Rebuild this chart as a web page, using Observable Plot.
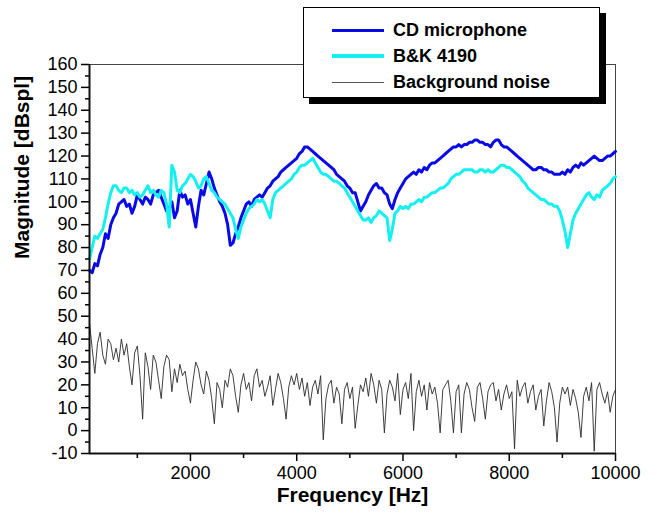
<!DOCTYPE html>
<html><head><meta charset="utf-8">
<script src="https://cdn.jsdelivr.net/npm/d3@7"></script>
<script src="https://cdn.jsdelivr.net/npm/@observablehq/plot@0.6"></script>
<style>
body{margin:0;background:#fff;font-family:"Liberation Sans",Arial,sans-serif;}
#wrap{position:relative;width:659px;height:519px;}
#legend{position:absolute;left:303px;top:7px;width:295px;height:89px;border:1px solid #000;background:#fff;box-shadow:6px 6px 0 #000;}
.row{position:absolute;left:0;width:100%;height:26px;}
.sw{position:absolute;left:28px;width:52px;}
.lab{position:absolute;left:89px;top:0;font-weight:bold;font-size:18px;line-height:26px;white-space:nowrap;color:#000;}
</style>
</head><body>
<div id="wrap"></div>
<script>
const freqHz = [
100,150,200,250,300,350,400,450,500,550,600,650,700,750,800,850,900,950,
1000,1050,1100,1150,1200,1250,1300,1350,1400,1450,1500,1550,1600,1650,1700,1750,1800,1850,1900,1950,
2000,2050,2100,2150,2200,2250,2300,2350,2400,2450,2500,2550,2600,2650,2700,2750,2800,2850,2900,2950,
3000,3050,3100,3150,3200,3250,3300,3350,3400,3450,3500,3550,3600,3650,3700,3750,3800,3850,3900,3950,
4000,4050,4100,4150,4200,4250,4300,4350,4400,4450,4500,4550,4600,4650,4700,4750,4800,4850,4900,4950,
5000,5050,5100,5150,5200,5250,5300,5350,5400,5450,5500,5550,5600,5650,5700,5750,5800,5850,5900,5950,
6000,6050,6100,6150,6200,6250,6300,6350,6400,6450,6500,6550,6600,6650,6700,6750,6800,6850,6900,6950,
7000,7050,7100,7150,7200,7250,7300,7350,7400,7450,7500,7550,7600,7650,7700,7750,7800,7850,7900,7950,
8000,8050,8100,8150,8200,8250,8300,8350,8400,8450,8500,8550,8600,8650,8700,8750,8800,8850,8900,8950,
9000,9050,9100,9150,9200,9250,9300,9350,9400,9450,9500,9550,9600,9650,9700,9750,9800,9850,9900,9950,
10000];

const cdMicDb = [
70,69,73,72,77,80,86,84,90,93,95,99,100,101,98,99,95,98,
103,101,99,102,101,99,103,104,105,102,99,96,97,100,93,96,105,102,103,99,
101,95,89,98,105,103,108,113,110,106,103,100,98,95,90,81,82,86,89,93,
96,99,100,98,101,102,103,102,104,106,107,109,110,111,113,114,115,116,117,118,
119,121,122,124,124,123,122,121,120,119,118,117,116,115,114,112,111,110,109,107,
106,104,104,100,96,98,100,103,105,107,108,106,106,104,103,99,97,101,104,106,
108,110,111,112,113,112,114,113,115,114,116,117,117,118,119,120,121,122,123,124,
124,125,124,125,125,126,126,127,127,126,126,125,125,124,126,127,127,125,124,124,
123,122,121,120,119,118,117,116,115,114,114,115,115,114,114,113,113,112,112,112,
113,112,114,113,115,116,115,117,116,117,118,119,120,119,118,118,119,120,120,121,
122];

const bk4190Db = [
75,80,85,84,86,88,93,99,104,107,107,105,104,106,106,104,105,103,
104,102,103,105,107,104,105,103,102,105,104,99,89,116,113,105,104,107,108,110,
112,111,109,106,107,110,111,108,105,104,102,101,100,99,97,95,93,88,84,89,
92,95,97,98,99,101,100,101,99,96,93,101,104,105,106,107,108,109,110,112,
113,115,116,116,117,118,119,117,115,113,112,112,111,110,109,109,108,107,106,104,
102,100,98,96,94,92,92,93,91,93,94,96,95,94,93,83,88,95,96,98,
97,98,97,99,99,100,101,100,102,102,103,104,104,105,106,106,107,108,110,111,
112,112,113,114,114,114,114,113,113,114,114,113,114,113,113,114,115,116,116,115,
115,114,113,112,111,109,108,106,105,104,103,102,101,101,100,99,99,98,98,96,
92,87,80,86,92,95,97,99,101,103,104,102,101,103,102,105,106,107,108,110,
111];

const noiseDb = [
47,36,25,38,43,33,29,40,38,31,36,30,40,33,38,28,20,34,
37,24,5,34,28,18,33,30,22,14,28,33,31,17,27,21,29,24,26,18,
12,22,30,27,20,16,26,22,14,3,21,18,10,22,19,27,24,15,8,20,
25,18,21,13,24,27,19,22,15,19,24,11,18,25,21,14,5,19,24,20,
25,18,23,15,21,11,19,22,16,24,-4,14,20,22,12,19,16,3,18,21,
14,19,1,11,20,17,23,15,25,20,12,22,18,-1,16,22,19,13,25,7,
18,21,14,25,0,17,22,15,20,9,21,16,19,12,-1,18,20,22,13,-1,
17,20,-1,16,21,18,10,4,19,21,14,5,17,20,21,13,18,9,16,20,
14,17,-8,22,15,19,21,12,17,20,9,15,18,2,13,21,17,10,-5,12,
19,16,19,11,18,14,8,-3,15,19,13,21,-9,18,21,16,12,17,8,15,
18];

const yTicks = [-10,0,10,20,30,40,50,60,70,80,90,100,110,120,130,140,150,160];
const yMinorTicks = [-5,5,15,25,35,45,55,65,75,85,95,105,115,125,135,145,155];
const xTicks = [2000,4000,6000,8000,10000];
const xMinorTicks = [1000,3000,5000,7000,9000];

const seriesNames = ["CD microphone", "B&K 4190", "Background noise"];
const seriesColors = ["#0a0ae6", "#14f0f0", "#2a2a2a"];
const xTitle = "Frequency [Hz]";
const yTitle = "Magnitude [dBspl]";

const cd = freqHz.map((f, i) => ({f, v: cdMicDb[i]}));
const bk = freqHz.map((f, i) => ({f, v: bk4190Db[i]}));
const noise = freqHz.map((f, i) => ({f, v: noiseDb[i]}));

const chart = Plot.plot({
  width: 659, height: 519,
  marginLeft: 89, marginRight: 44, marginTop: 64, marginBottom: 66,
  style: {fontFamily: '"Liberation Sans", Arial, sans-serif', color: "#000", background: "#fff", overflow: "visible"},
  x: {domain: [100, 10000], label: null},
  y: {domain: [-10, 160], label: null},
  marks: [
    Plot.ruleY([160], {stroke: "#444", strokeWidth: 1}),
    Plot.ruleX([10000], {stroke: "#444", strokeWidth: 1}),
    Plot.line(noise, {x: "f", y: "v", stroke: seriesColors[2], strokeWidth: 0.9}),
    Plot.line(cd, {x: "f", y: "v", stroke: seriesColors[0], strokeWidth: 3}),
    Plot.line(bk, {x: "f", y: "v", stroke: seriesColors[1], strokeWidth: 3}),
    Plot.axisY(yMinorTicks, {tickSize: 4, tickFormat: () => "", label: null, strokeWidth: 1.5}),
    Plot.axisY(yTicks, {tickSize: 8, tickPadding: 4, fontSize: 18, tickFormat: d => String(d), label: null, strokeWidth: 1.5}),
    Plot.axisX(xMinorTicks, {tickSize: 5, tickFormat: () => "", label: null, strokeWidth: 1.5}),
    Plot.axisX(xTicks, {tickSize: 8, tickPadding: 5, fontSize: 18, tickFormat: d => String(d), label: null, strokeWidth: 1.5}),
    Plot.ruleX([100], {stroke: "#111", strokeWidth: 2}),
    Plot.ruleY([-10], {stroke: "#111", strokeWidth: 2}),
    Plot.text([xTitle], {frameAnchor: "bottom", dy: 48, fontSize: 21, fontWeight: "bold", fill: "#000"}),
    Plot.text([yTitle], {frameAnchor: "left", dx: -67, rotate: -90, fontSize: 21, fontWeight: "bold", fill: "#000"})
  ]
});

const wrap = document.getElementById("wrap");
wrap.appendChild(chart);

const legend = document.createElement("div");
legend.id = "legend";
const rowTops = [9, 35, 61];
const swH = [3, 3.5, 1];
seriesNames.forEach((name, i) => {
  const row = document.createElement("div");
  row.className = "row";
  row.style.top = rowTops[i] + "px";
  const sw = document.createElement("div");
  sw.className = "sw";
  sw.style.height = swH[i] + "px";
  sw.style.top = (13 - swH[i] / 2) + "px";
  sw.style.background = i === 2 ? "#555" : seriesColors[i];
  const lab = document.createElement("div");
  lab.className = "lab";
  lab.textContent = name;
  row.appendChild(sw);
  row.appendChild(lab);
  legend.appendChild(row);
});
wrap.appendChild(legend);
</script>
</body></html>
